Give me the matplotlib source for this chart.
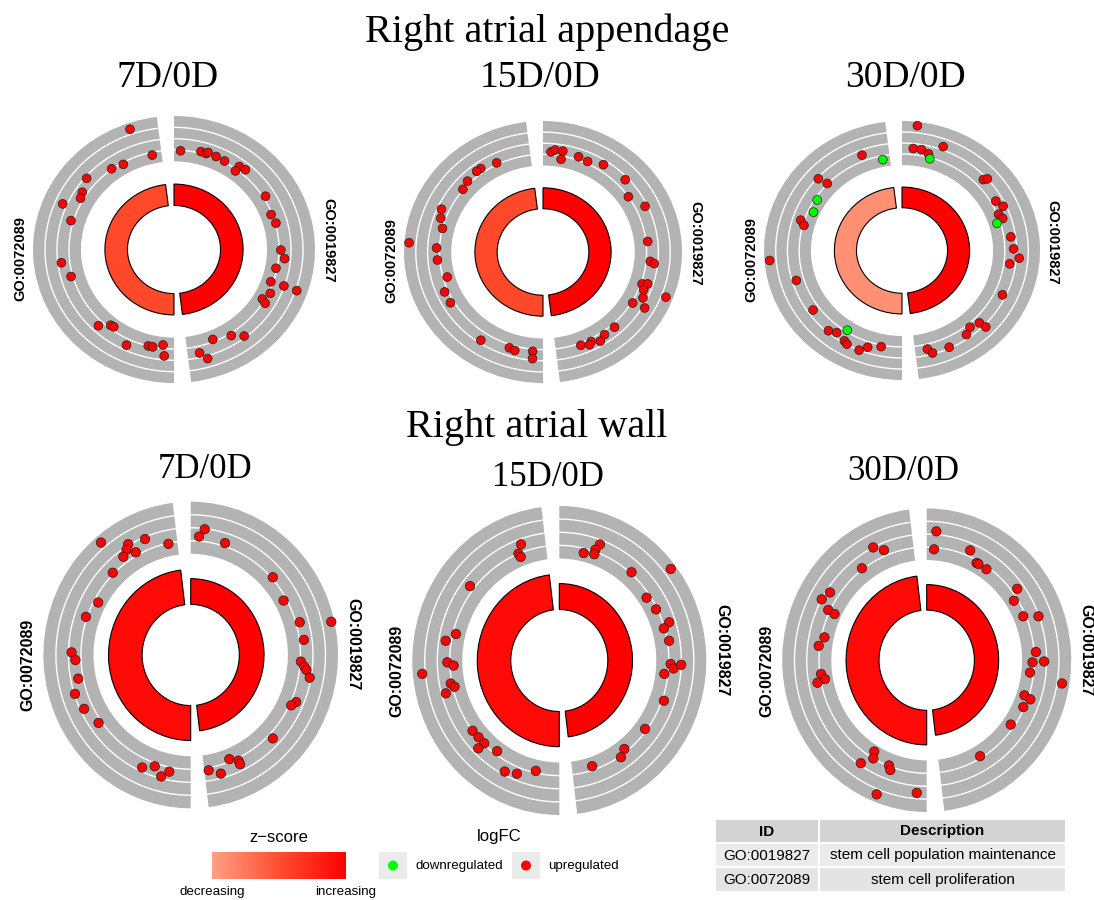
import matplotlib.pyplot as plt
import numpy as np
from matplotlib.colors import LinearSegmentedColormap, Normalize
from matplotlib.patches import Rectangle

W, H = 1094, 900

terms = ['GO:0019827', 'GO:0072089']
descriptions = ['stem cell population maintenance', 'stem cell proliferation']
tissues = ['Right atrial appendage', 'Right atrial wall']
contrasts = ['7D/0D', '15D/0D', '30D/0D']

# gene positions (degrees clockwise from top) and logFC, one pair per panel
raa_7d_pos = [340.9, 347.7, 330.6, 323.8, 310.7, 303.4, 300.1, 293.4, 286.5, 262.9,
              254.5, 223.2, 218.4, 216.4, 205.2, 194.2, 191.7, 186.2, 185.0,
              3.6, 14.6, 17.5, 18.4, 23.2, 28.4, 36.7, 36.5, 40.3, 58.4, 69.2, 74.7, 90.3,
              95.0, 101.0, 109.4, 109.3, 109.5, 115.7, 120.6, 121.9, 142.5, 147.8, 157.8,
              166.8, 163.7]
raa_7d_lfc = [6.9, 1.5, 1.7, 2.1, 3.7, 2.8, 2.5, 4.7, 2.4, 3.4, 2.3, 2.9, 1.5, 1.4, 3.1,
              2.0, 2.0, 1.4, 3.3,
              1.9, 2.3, 2.2, 2.5, 2.3, 2.2, 2.7, 1.7, 2.9, 2.4, 1.8, 2.1, 2.3, 3.0, 1.8,
              1.6, 3.9, 6.2, 2.3, 1.6, 2.4, 3.7, 2.4, 1.6, 3.2, 4.5]

raa_15d_pos = [333.9, 324.9, 322.2, 314.9, 309.7, 294.1, 289.3, 284.0, 274.2, 272.3,
               265.4, 254.5, 246.7, 239.8, 213.6, 198.3, 195.1, 185.6, 185.3,
               4.3, 6.4, 10.5, 10.4, 19.4, 24.9, 33.1, 47.0, 55.5, 64.6, 83.9, 95.3, 96.3,
               108.9, 107.9, 111.7, 116.0, 111.3, 121.1, 120.3, 138.1, 145.0, 148.8,
               153.1, 154.7, 159.1]
raa_15d_lfc = [2.3, 2.8, 2.8, 2.5, 2.1, 3.3, 2.8, 2.0, 7.2, 2.5, 2.4, 1.3, 2.6, 2.6, 3.5,
               2.6, 2.8, 2.4, 3.7,
               2.5, 2.9, 2.9, 1.4, 2.6, 2.4, 3.2, 3.5, 2.0, 3.6, 2.3, 2.7, 3.4, 2.2, 3.1,
               2.8, 3.3, 6.8, 2.2, 4.4, 2.6, 2.6, 3.2, 2.5, 2.9, 2.4]

raa_30d_pos = [338.5, 348.8, 312.4, 313.7, 302.4, 294.8, 287.7, 285.3, 265.4, 253.2,
               234.5, 220.7, 216.8, 212.8, 210.9, 208.9, 202.0, 198.4, 191.5,
               6.6, 5.9, 10.3, 14.4, 20.4, 15.9, 47.1, 48.2, 60.7, 65.0, 68.2, 71.3, 73.0,
               82.4, 89.1, 94.0, 97.5, 115.2, 134.9, 134.2, 140.2, 144.3, 155.4, 166.4,
               164.4]
raa_30d_lfc = [3.1, -1.3, 3.8, 2.1, -1.6, -1.1, 2.6, 1.8, 7.1, 3.3, 3.1, 3.7, 3.1, -1.7,
               3.6, 3.9, 4.0, 3.0, 2.3,
               7.3, 3.1, 3.1, 2.6, 4.6, -1.8, 3.4, 4.0, 2.8, 3.5, 2.2, 2.6, -1.4, 3.2,
               3.5, 4.5, 3.0, 3.4, 3.1, 4.4, 2.6, 3.3, 3.8, 2.9, 3.8]

raw_7d_pos = [320.3, 329.6, 327.6, 324.5, 330.9, 337.7, 348.2, 315.4, 298.6, 289.3,
              271.2, 267.6, 258.6, 252.1, 244.1, 234.7, 204.2, 198.6, 194.2, 190.8,
              6.6, 4.2, 17.7, 47.7, 60.6, 73.9, 77.2, 82.7, 93.3, 95.6, 97.1, 100.4,
              113.2, 115.7, 134.3, 158.9, 154.8, 154.8, 170.8, 165.2]
raw_7d_lfc = [6.9, 4.2, 3.6, 3.0, 2.5, 3.7, 1.9, 2.2, 1.3, 2.2, 3.5, 2.9, 2.8, 3.9, 3.4,
              2.5, 3.4, 2.5, 3.7, 2.7,
              3.9, 2.7, 2.5, 2.2, 1.5, 2.6, 7.5, 2.7, 2.1, 2.7, 3.1, 3.8, 2.8, 2.3, 2.8,
              1.6, 2.4, 3.0, 2.4, 3.3]

raw_15d_pos = [340.9, 338.1, 338.6, 308.4, 283.7, 279.4, 269.1, 267.4, 264.7, 258.6,
               256.6, 254.6, 232.4, 227.9, 223.6, 224.1, 215.8, 207.3, 201.5, 192.6,
               20.2, 18.9, 19.1, 13.4, 40.7, 52.0, 55.6, 63.3, 71.7, 73.7, 80.3, 91.7,
               93.8, 91.9, 96.9, 110.1, 127.2, 142.3, 146.2, 161.9]
raw_15d_lfc = [3.2, 2.0, 1.4, 2.7, 1.5, 2.9, 2.4, 1.4, 6.5, 2.2, 1.7, 3.3, 2.0, 1.9, 1.9,
               3.1, 1.5, 3.5, 3.0, 1.7,
               3.3, 2.3, 1.6, 1.3, 2.2, 7.1, 1.4, 1.8, 3.0, 1.9, 2.3, 2.3, 2.8, 4.0, 1.4,
               2.3, 1.7, 1.5, 2.2, 1.4]

raw_30d_pos = [333.5, 337.8, 323.5, 303.7, 298.9, 295.9, 295.5, 282.0, 277.2, 262.9,
               260.0, 258.9, 211.1, 209.7, 213.9, 200.6, 199.2, 201.4, 184.5,
               4.5, 4.0, 22.6, 28.3, 29.5, 34.6, 53.1, 57.0, 66.6, 69.5, 85.9, 91.1,
               90.6, 96.5, 99.3, 108.9, 109.8, 114.8, 126.1, 149.7]
raw_30d_lfc = [4.0, 2.9, 2.2, 3.4, 4.0, 2.3, 1.1, 1.5, 2.2, 1.8, 1.3, 2.6, 1.0, 2.0, 3.7,
               1.9, 2.5, 6.8, 5.1,
               4.5, 1.7, 2.9, 1.6, 1.6, 1.6, 2.9, 1.4, 1.6, 3.9, 2.3, 1.7, 3.6, 1.4, 6.8,
               1.3, 2.4, 1.8, 1.4, 1.7]

# z-score and gene count per term, in the order of `terms`
zscores = [[5.0, 3.6], [5.0, 3.6], [5.0, 2.3],
           [5.0, 4.8], [5.0, 4.8], [5.0, 4.8]]
counts = [[40, 40], [40, 40], [40, 40],
          [42, 57], [42, 57], [42, 57]]

panels = [(raa_7d_pos, raa_7d_lfc), (raa_15d_pos, raa_15d_lfc), (raa_30d_pos, raa_30d_lfc),
          (raw_7d_pos, raw_7d_lfc), (raw_15d_pos, raw_15d_lfc), (raw_30d_pos, raw_30d_lfc)]

# where each circle sits on the page: centre x, centre y, x radius, y radius (pixels)
boxes = [(174, 249.5, 141, 133.5), (543, 252, 139, 131), (902, 250.5, 138, 129.5),
         (190.7, 655, 147.3, 153.3), (559.3, 660.5, 147, 154.5), (926.7, 660.2, 144.5, 151.8)]

LIM = 1.2
RING_IN, RING_OUT = 0.66, 1.0
HOLE = 0.33
BAR_SCALE = 0.004
LFC_MAX = 8.0
SPAN = 173.0
GREY = '#b3b3b3'
UP, DOWN = '#ff0000', '#00ff00'

zcmap = LinearSegmentedColormap.from_list(
    'zsc', [(0.0, '#ffa085'), (0.53, '#ff4a2a'), (1.0, '#ff0000')])
znorm = Normalize(2.0, 5.0)

fig = plt.figure(figsize=(W / 100, H / 100), dpi=100)

canvas = fig.add_axes([0, 0, 1, 1])
canvas.set_xlim(0, W)
canvas.set_ylim(H, 0)
canvas.axis('off')


def go_circle(ax, pos, lfc, zsc, cnt, label_r, label_size, dot_size):
    ax.set_theta_zero_location('N')
    ax.set_theta_direction(-1)
    ax.set_ylim(0, LIM)
    ax.set_aspect('auto')
    ax.axis('off')
    for k, start in enumerate([0.0, 180.0]):
        th0 = np.deg2rad(start)
        span = np.deg2rad(SPAN)
        ax.bar(th0, RING_OUT - RING_IN, width=span, bottom=RING_IN, align='edge',
               color=GREY, linewidth=0)
        arc = np.linspace(th0, th0 + span, 120)
        for lvl in (2, 4, 6):
            r = RING_IN + (RING_OUT - RING_IN) * lvl / LFC_MAX
            ax.plot(arc, np.full_like(arc, r), color='white', lw=1.0, zorder=2)
        ax.bar(th0, cnt[k] * BAR_SCALE, width=span, bottom=HOLE, align='edge',
               color=zcmap(znorm(zsc[k])), edgecolor='black', linewidth=0.8)
        ax.text(th0 + span / 2, label_r, terms[k], rotation=270 if k == 0 else 90,
                ha='center', va='center', rotation_mode='anchor',
                fontsize=label_size, fontweight='bold', family='Liberation Sans')
    lfc = np.asarray(lfc)
    radius = RING_IN + (RING_OUT - RING_IN) * np.abs(lfc) / LFC_MAX
    colors = np.where(lfc < 0, DOWN, UP)
    ax.scatter(np.deg2rad(pos), radius, s=dot_size, c=colors,
               edgecolors='#202020', linewidths=0.5, zorder=5)


for i, ((pos, lfc), (cx, cy, rx, ry)) in enumerate(zip(panels, boxes)):
    rect = [(cx - rx * LIM) / W, (H - cy - ry * LIM) / H,
            2 * rx * LIM / W, 2 * ry * LIM / H]
    ax = fig.add_axes(rect, projection='polar')
    top = i < 3
    go_circle(ax, pos, lfc, zscores[i], counts[i],
              label_r=1.095 if top else 1.105,
              label_size=10.5 if top else 11.5,
              dot_size=40 if top else 46)

# headings
serif = 'Liberation Serif'
canvas.text(547, 32, tissues[0], ha='center', va='center', fontsize=29, family=serif)
canvas.text(537, 427, tissues[1], ha='center', va='center', fontsize=29, family=serif)
for x, label in zip([168, 540, 905], contrasts):
    canvas.text(x, 78, label, ha='center', va='center', fontsize=27, family=serif)
for x, y, label in zip([205, 548, 903], [469, 477, 472], contrasts):
    canvas.text(x, y, label, ha='center', va='center', fontsize=25, family=serif)

# z-score legend
sans = 'Liberation Sans'
canvas.imshow(np.linspace(0, 1, 256)[None, :], cmap=zcmap, aspect='auto',
              extent=(212, 346, 879, 852), zorder=1)
canvas.text(279, 837, 'z\u2212score', ha='center', va='center', fontsize=12, family=sans)
canvas.text(212, 892, 'decreasing', ha='center', va='center', fontsize=9.6, family=sans)
canvas.text(346, 892, 'increasing', ha='center', va='center', fontsize=9.6, family=sans)

# logFC legend
canvas.text(499, 837, 'logFC', ha='center', va='center', fontsize=12, family=sans)
for x0, color, label in [(379, DOWN, 'downregulated'), (512, UP, 'upregulated')]:
    canvas.add_patch(Rectangle((x0, 852), 28, 27, facecolor='#ebebeb', edgecolor='none'))
    canvas.scatter([x0 + 14], [865.5], s=52, color=color, edgecolors='none', zorder=3)
    canvas.text(x0 + 36, 866, label, ha='left', va='center', fontsize=9.6, family=sans)

# term table
col_edges = [715, 819, 1066]
row_edges = [819, 843, 867, 892]
fills = ['#d3d3d3', '#ebebeb', '#e4e4e4']
rows = [('ID', 'Description')] + list(zip(terms, descriptions))
for r, cells in enumerate(rows):
    y0, y1 = row_edges[r], row_edges[r + 1]
    for c, txt in enumerate(cells):
        x0, x1 = col_edges[c], col_edges[c + 1]
        canvas.add_patch(Rectangle((x0, y0), x1 - x0, y1 - y0, facecolor=fills[r],
                                   edgecolor='white', linewidth=1.5))
        canvas.text((x0 + x1) / 2, (y0 + y1) / 2 + 0.5, txt, ha='center', va='center',
                    fontsize=11, family=sans, fontweight='bold' if r == 0 else 'normal')

canvas.set_xlim(0, W)
canvas.set_ylim(H, 0)

fig.savefig('out.png', dpi=100)
